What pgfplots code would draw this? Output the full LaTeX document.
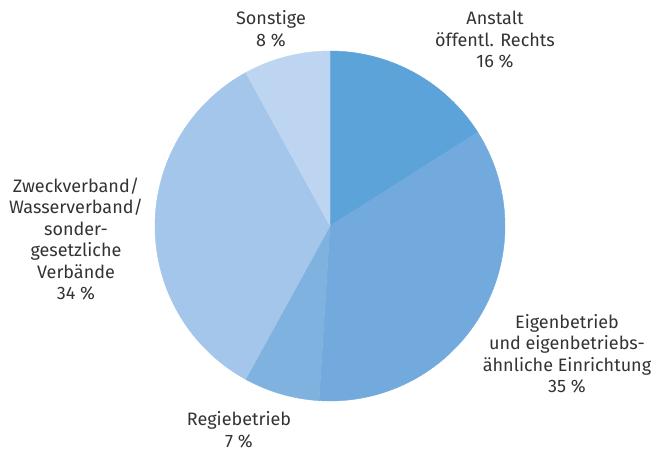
\documentclass[border=0pt]{standalone}
\usepackage{pgfplots}
\pgfplotsset{compat=1.18}
\usepackage{fontspec}
\setmainfont{Fira Sans}
\definecolor{cA}{HTML}{5CA3DA}
\definecolor{cB}{HTML}{72AADD}
\definecolor{cC}{HTML}{80B2E0}
\definecolor{cD}{HTML}{A3C6EA}
\definecolor{cE}{HTML}{BDD5F0}
\definecolor{txt}{HTML}{333333}
% shares in percent, clockwise from the top
\def\vA{16}\def\vB{35}\def\vC{7}\def\vD{34}\def\vE{8}
\begin{document}
\begin{tikzpicture}
\begin{axis}[
  x=1pt, y=1pt, scale only axis,
  xmin=0, xmax=664, ymin=0, ymax=451,
  axis line style={draw=none}, ticks=none, clip=false,
  samples=80,
  every axis plot/.append style={line width=0.4pt},
]
\pgfmathsetmacro{\aA}{90}
\pgfmathsetmacro{\aB}{\aA-3.6*\vA}
\pgfmathsetmacro{\aC}{\aB-3.6*\vB}
\pgfmathsetmacro{\aD}{\aC-3.6*\vC}
\pgfmathsetmacro{\aE}{\aD-3.6*\vD}
\pgfmathsetmacro{\aF}{\aE-3.6*\vE}
\addplot[fill=cA, draw=cA, domain=\aB:\aA] ({330+175*cos(x)},{225+175*sin(x)}) -- (axis cs:330,225) -- cycle;
\addplot[fill=cB, draw=cB, domain=\aC:\aB] ({330+175*cos(x)},{225+175*sin(x)}) -- (axis cs:330,225) -- cycle;
\addplot[fill=cC, draw=cC, domain=\aD:\aC] ({330+175*cos(x)},{225+175*sin(x)}) -- (axis cs:330,225) -- cycle;
\addplot[fill=cD, draw=cD, domain=\aE:\aD] ({330+175*cos(x)},{225+175*sin(x)}) -- (axis cs:330,225) -- cycle;
\addplot[fill=cE, draw=cE, domain=\aF:\aE] ({330+175*cos(x)},{225+175*sin(x)}) -- (axis cs:330,225) -- cycle;
\begin{scope}[every node/.style={align=center, text=txt, inner sep=0pt, font=\fontsize{18}{21.5}\selectfont}]
\node at (axis cs:271,422) {Sonstige\\8 \%};
\node at (axis cs:495,411) {Anstalt\\öffentl. Rechts\\16 \%};
\node at (axis cs:76,212) {Zweckverband/\\Wasserverband/\\sonder-\\gesetzliche\\Verbände\\34 \%};
\node at (axis cs:567,97) {Eigenbetrieb\\und eigenbetriebs-\\ähnliche Einrichtung\\35 \%};
\node at (axis cs:239,21) {Regiebetrieb\\7 \%};
\end{scope}
\end{axis}
\end{tikzpicture}
\end{document}
